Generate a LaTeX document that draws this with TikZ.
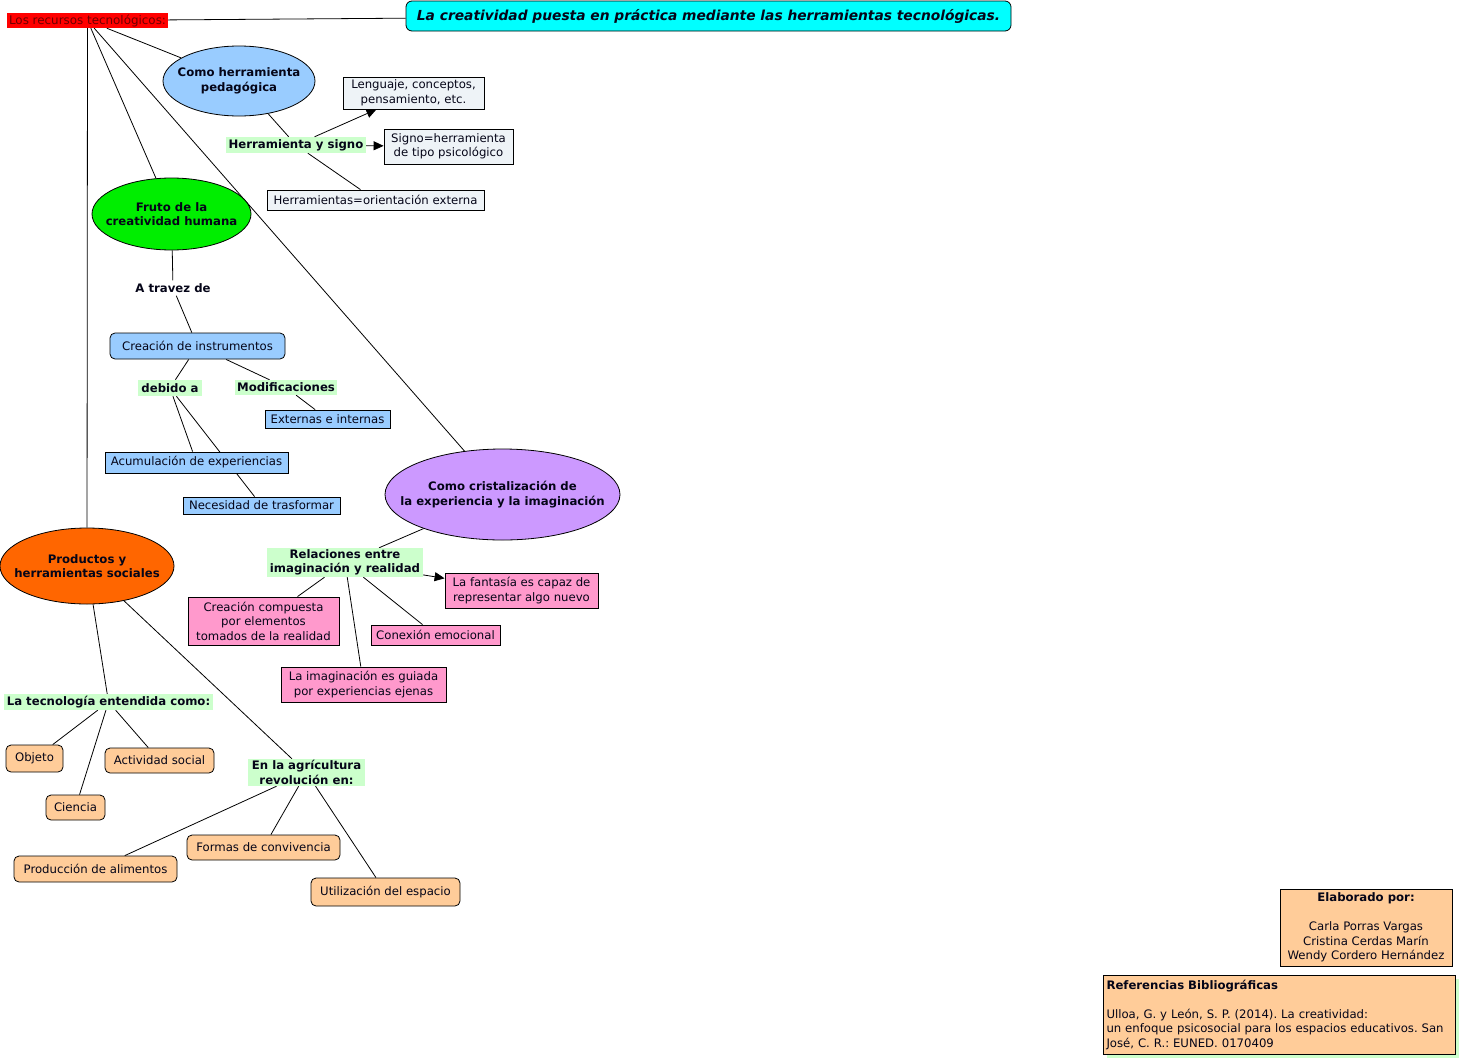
\documentclass[tikz,border=0pt]{standalone}
\usepackage{fontspec}
\setmainfont{DejaVu Sans}
\frenchspacing
\usetikzlibrary{shapes.geometric,arrows.meta,backgrounds}
\definecolor{lgreen}{HTML}{CCFFCC}
\definecolor{lblue}{HTML}{99CCFF}
\definecolor{pgray}{HTML}{EEF3F7}
\definecolor{pinkc}{HTML}{FF99CC}
\definecolor{peach}{HTML}{FFCC99}
\definecolor{brgreen}{HTML}{00EE00}
\definecolor{purp}{HTML}{CC99FF}
\definecolor{orng}{HTML}{FF6600}
\definecolor{cyanc}{HTML}{00FFFF}
\definecolor{redc}{HTML}{FF0000}
\definecolor{darkred}{HTML}{6E0000}
\definecolor{txt}{HTML}{050518}
\tikzset{
  every node/.style={font=\fontsize{11.7}{14.5}\selectfont, text=txt, align=center, inner sep=0pt},
  box/.style={draw=black, line width=0.8pt, rectangle},
  rbox/.style={box, rounded corners=5pt},
  oval/.style={draw=black, line width=0.8pt, ellipse},
  ovaltext/.style={font=\fontsize{11.7}{14.5}\selectfont\bfseries},
  lbl/.style={fill=lgreen, font=\fontsize{11.7}{14.5}\selectfont\bfseries},
  conn/.style={line width=0.8pt, draw=black},
  arr/.style={conn, -{Triangle[length=10pt,width=9pt]}},
}
\begin{document}
\begin{tikzpicture}[x=1pt,y=-1pt]
\useasboundingbox (0,0) rectangle (1463,1060);
% root and title
\node[fill=redc, text=darkred, minimum width=161pt, minimum height=15pt, font=\fontsize{11.9}{14.5}\selectfont] (root) at (87.5,20.5) {Los recursos tecnológicos:};
\node[rbox, rounded corners=6pt, fill=cyanc, minimum width=605pt, minimum height=30pt, font=\fontsize{13.8}{16}\selectfont\bfseries\itshape] (title) at (708.5,16) {La creatividad puesta en práctica mediante las herramientas tecnológicas.};
% ellipses (shape nodes, with their text set on top)
\node[oval, fill=lblue, minimum width=152pt, minimum height=70pt] (hp) at (239,81) {};
\node[ovaltext] (hpt) at (hp.center) {Como herramienta\\pedagógica};
\node[oval, fill=brgreen, minimum width=159pt, minimum height=72pt] (fruto) at (171.5,214) {};
\node[ovaltext] (frutot) at (fruto.center) {Fruto de la\\creatividad humana};
\node[oval, fill=purp, minimum width=235pt, minimum height=91pt] (crist) at (502.5,494.5) {};
\node[ovaltext] (cristt) at (crist.center) {Como cristalización de\\la experiencia y la imaginación};
\node[oval, fill=orng, minimum width=174pt, minimum height=76pt] (prod) at (87,566) {};
\node[ovaltext] (prodt) at (prod.center) {Productos y\\herramientas sociales};
% herramienta pedagogica branch
\node[lbl, minimum width=140pt, minimum height=16pt] (hys) at (296,145) {Herramienta y signo};
\node[box, fill=pgray, minimum width=141pt, minimum height=32pt] (leng) at (413.5,93) {Lenguaje, conceptos,\\pensamiento, etc.};
\node[box, fill=pgray, minimum width=129pt, minimum height=35pt] (signo) at (448.5,146.5) {Signo=herramienta\\de tipo psicológico};
\node[box, fill=pgray, minimum width=217pt, minimum height=20pt] (orient) at (375.5,200) {Herramientas=orientación externa};
% fruto branch
\node[font=\fontsize{11.7}{14.5}\selectfont\bfseries, minimum width=80pt, minimum height=15pt] (atr) at (173,288) {A travez de};
\node[rbox, fill=lblue, minimum width=175pt, minimum height=26pt] (instr) at (197.5,346) {Creación de instrumentos};
\node[lbl, minimum width=64pt, minimum height=16pt] (deb) at (170,388) {debido a};
\node[lbl, minimum width=102pt, minimum height=15pt] (modif) at (286,387.5) {Modificaciones};
\node[box, fill=lblue, minimum width=125pt, minimum height=18pt] (ext) at (327.5,419) {Externas e internas};
\node[box, fill=lblue, minimum width=183pt, minimum height=21pt] (acum) at (196.5,462.5) {Acumulación de experiencias};
\node[box, fill=lblue, minimum width=157pt, minimum height=17pt] (nec) at (261.5,505.5) {Necesidad de trasformar};
% cristalizacion branch
\node[lbl, minimum width=156pt, minimum height=29pt] (rel) at (345,562.5) {Relaciones entre\\imaginación y realidad};
\node[box, fill=pinkc, minimum width=153pt, minimum height=35pt] (fant) at (521.5,590.5) {La fantasía es capaz de\\representar algo nuevo};
\node[box, fill=pinkc, minimum width=151pt, minimum height=48pt] (comp) at (263.5,621) {Creación compuesta\\por elementos\\tomados de la realidad};
\node[box, fill=pinkc, minimum width=129pt, minimum height=20pt] (emoc) at (435.5,635) {Conexión emocional};
\node[box, fill=pinkc, minimum width=165pt, minimum height=35pt] (guia) at (363.5,684.5) {La imaginación es guiada\\por experiencias ejenas};
% productos branch
\node[lbl, minimum width=209pt, minimum height=16pt] (tec) at (108.5,702) {La tecnología entendida como:};
\node[lbl, minimum width=117pt, minimum height=27pt] (agr) at (306.5,772.5) {En la agrícultura\\revolución en:};
\node[rbox, fill=peach, minimum width=57pt, minimum height=27pt] (obj) at (34.5,758.5) {Objeto};
\node[rbox, fill=peach, minimum width=109pt, minimum height=25pt] (act) at (159.5,760.5) {Actividad social};
\node[rbox, fill=peach, minimum width=59pt, minimum height=25pt] (cien) at (75.5,807.5) {Ciencia};
\node[rbox, fill=peach, minimum width=163pt, minimum height=26pt] (alim) at (95.5,869) {Producción de alimentos};
\node[rbox, fill=peach, minimum width=153pt, minimum height=25pt] (conv) at (263.5,847.5) {Formas de convivencia};
\node[rbox, fill=peach, minimum width=149pt, minimum height=28pt] (esp) at (385.5,892) {Utilización del espacio};
% credits
\node[box, fill=peach, minimum width=172pt, minimum height=77pt] (elab) at (1366,927.5) {\textbf{Elaborado por:}\\[14.5pt]Carla Porras Vargas\\Cristina Cerdas Marín\\Wendy Cordero Hernández};
\fill[lgreen] (1107,979) rectangle (1459,1058);
\node[box, fill=peach, minimum width=352pt, minimum height=79pt, align=left, text width=345pt] (refs) at (1279,1014.5) {\textbf{Referencias Bibliográficas}\\[14.5pt]Ulloa, G. y León, S. P. (2014). La creatividad:\\un enfoque psicosocial para los espacios educativos. San\\José, C. R.: EUNED. 0170409};
% connectors
\begin{scope}[on background layer]
\draw[conn] (root) -- (title);
\draw[conn] (root) -- (hp);
\draw[conn] (root) -- (fruto);
\draw[conn] (root) -- (crist);
\draw[conn] (root) -- (prod);
\draw[conn] (hp) -- (hys);
\draw[conn] (hys) -- (orient);
\draw[conn] (fruto) -- (atr);
\draw[conn] (atr) -- (instr);
\draw[conn] (instr) -- (deb);
\draw[conn] (instr) -- (modif);
\draw[conn] (modif) -- (ext);
\draw[conn] (deb) -- (acum);
\draw[conn] (deb) -- (nec);
\draw[conn] (crist) -- (rel);
\draw[conn] (rel) -- (comp);
\draw[conn] (rel) -- (emoc);
\draw[conn] (rel) -- (guia);
\draw[conn] (prod) -- (tec);
\draw[conn] (prod) -- (agr);
\draw[conn] (tec) -- (obj);
\draw[conn] (tec) -- (act);
\draw[conn] (tec) -- (cien);
\draw[conn] (agr) -- (alim);
\draw[conn] (agr) -- (conv);
\draw[conn] (agr) -- (esp);
\end{scope}
\draw[arr] (hys) -- (leng);
\draw[arr] (hys) -- (signo);
\draw[arr] (rel) -- (fant);
\end{tikzpicture}
\end{document}
